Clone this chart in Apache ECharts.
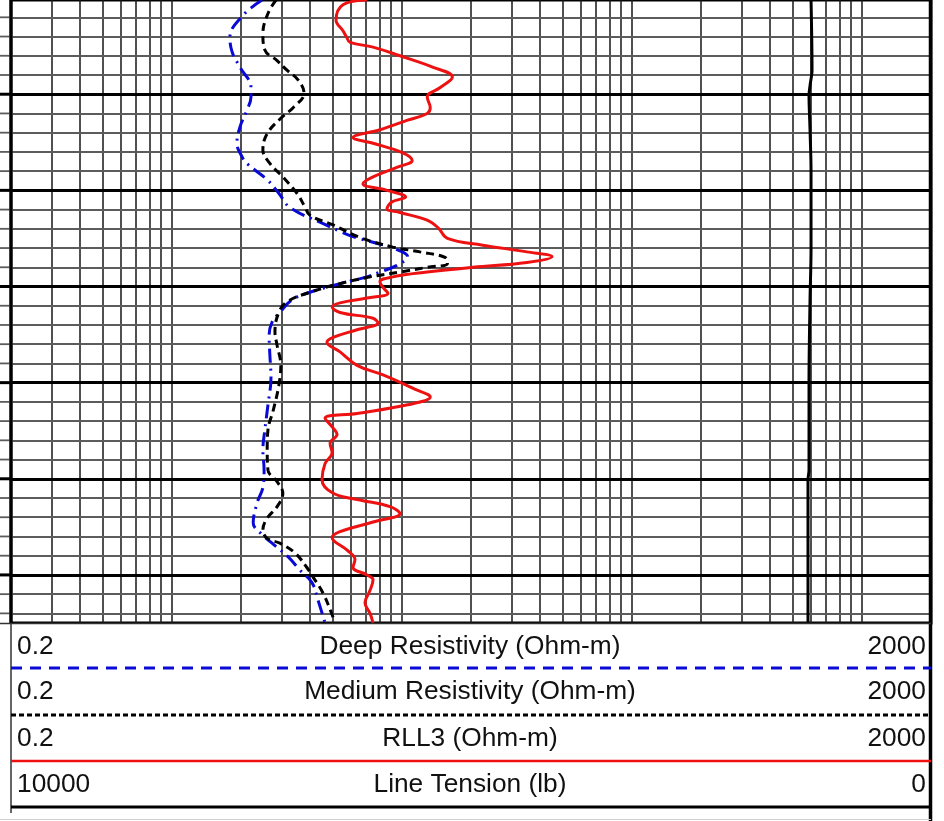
<!DOCTYPE html>
<html>
<head>
<meta charset="utf-8">
<script src="https://cdn.jsdelivr.net/npm/echarts@6/dist/echarts.min.js"></script>
<style>
html,body{margin:0;padding:0;background:#fff;}
#chart{width:944px;height:821px;}
</style>
</head>
<body>
<div id="chart"></div>
<script>
// ---- Data (depth units, values in track units) ----
const deepDepth = [1000.2,1001.8,1004.1,1005.6,1007.2,1009.3,1010.3,1011.7,1013.4,1015.1,1016.5,1017.2,1018.9,1020.3,1021.8,1023.3,1024.7,1025.4,1026.0,1026.9,1027.8,1028.5,1029.0,1029.7,1030.6,1031.4,1032.7,1033.7,1035.1,1037.1,1039.5,1042.3,1044.9,1047.0,1049.1,1050.9,1052.5,1054.6,1055.8,1056.7,1058.1,1059.5,1060.8,1062.6,1065.0];
const deepValue = [2.47,2.04,1.79,1.83,1.98,2.21,2.21,2.12,1.98,1.92,2.02,2.12,2.60,2.92,3.27,4.41,5.96,7.50,9.15,10.6,9.52,8.04,7.06,5.39,3.99,3.33,2.95,2.73,2.65,2.67,2.70,2.62,2.54,2.49,2.52,2.49,2.35,2.26,2.47,2.73,3.20,3.61,4.07,4.32,4.64];

const medDepth = [1000.2,1001.6,1003.7,1005.4,1006.5,1007.5,1008.5,1009.9,1011.4,1012.4,1014.1,1015.8,1017.2,1018.6,1020.3,1021.7,1022.6,1023.6,1024.9,1025.9,1026.4,1027.0,1027.6,1028.0,1028.5,1029.0,1029.7,1030.6,1031.6,1032.7,1034.7,1036.1,1038.2,1040.3,1042.9,1044.9,1047.0,1049.1,1050.3,1051.5,1052.9,1054.1,1055.3,1056.2,1056.7,1057.7,1059.2,1060.2,1061.9,1063.6,1065.0];
const medValue = [2.84,2.62,2.49,2.54,2.87,3.17,3.54,3.76,3.37,3.01,2.60,2.49,2.67,3.04,3.50,3.79,3.99,5.03,6.58,9.15,12.0,15.5,15.8,12.9,9.82,7.28,5.39,3.99,3.17,2.92,2.81,2.87,2.98,2.92,2.76,2.62,2.60,2.62,2.87,3.04,2.87,2.60,2.49,2.60,2.95,3.43,3.86,4.11,4.55,4.88,5.13];

const rllDepth = [1000.2,1000.7,1002.3,1003.4,1004.1,1004.6,1005.1,1006.0,1007.2,1008.2,1009.3,1010.3,1011.4,1012.0,1012.7,1013.7,1014.5,1015.1,1016.1,1016.9,1017.6,1018.6,1019.3,1020.0,1020.7,1021.2,1021.9,1022.3,1023.1,1023.9,1025.0,1025.7,1026.4,1026.9,1027.5,1028.0,1028.5,1029.0,1029.5,1030.1,1030.7,1031.2,1031.7,1032.1,1032.7,1033.3,1033.8,1034.5,1035.3,1035.8,1036.8,1038.2,1039.2,1040.6,1041.5,1042.3,1043.2,1043.7,1044.6,1045.4,1046.3,1047.3,1048.4,1050.1,1051.5,1052.2,1052.9,1053.6,1054.5,1055.5,1056.1,1057.4,1058.4,1059.2,1060.0,1060.5,1061.6,1062.9,1064.0,1065.0];
const rllValue = [7.06,5.55,5.18,5.55,5.77,5.96,7.50,9.82,13.7,16.6,14.7,12.9,13.3,12.9,10.6,8.04,6.14,7.50,10.1,11.1,9.52,7.50,6.78,8.63,10.4,9.06,8.63,9.82,12.9,14.4,15.8,22.5,35.0,45.0,35.0,20.4,12.9,9.15,8.04,8.29,8.71,7.06,5.39,4.98,5.39,7.50,7.88,6.39,5.03,4.73,5.39,6.39,8.29,11.2,13.3,10.6,6.39,4.64,4.98,5.23,4.88,4.98,4.64,4.50,5.03,6.58,8.88,9.82,7.50,5.39,4.98,5.77,6.26,6.14,7.06,7.50,7.28,6.92,7.28,7.50];

const tenDepth = [1000.2,1007.5,1009.1,1010.1,1013.7,1017.9,1026.2,1031.4,1039.7,1049.1,1050.1,1065.0];
const tenValue = [1304,1293,1315,1326,1315,1304,1304,1315,1326,1326,1337,1337];

// Scale definitions
const resMin = 0.2, resMax = 2000;
const tenMin = 0, tenMax = 10000;
const depthMin = 1000.2, depthMax = 1065;
const logGridValues = [0.3,0.4,0.5,0.6,0.7,0.8,0.9,1,2,3,4,5,6,7,8,9,10,20,30,40,50,60,70,80,90,100,200,300,400,500,600,700,800,900,1000];
const depthThin = [1002,1004,1006,1008,1012,1014,1016,1018,1022,1024,1026,1028,1032,1034,1036,1038,1042,1044,1046,1048,1052,1054,1056,1058,1062,1064];
const depthThick = [1010,1020,1030,1040,1050,1060];

// Header rows
const headerRows = [
  {left:'0.2', name:'Deep Resistivity (Ohm-m)', right:'2000'},
  {left:'0.2', name:'Medium Resistivity (Ohm-m)', right:'2000'},
  {left:'0.2', name:'RLL3 (Ohm-m)', right:'2000'},
  {left:'10000', name:'Line Tension (lb)', right:'0'}
];

const zip = (d, v) => d.map((dd, i) => [v[i], dd]);

const chart = echarts.init(document.getElementById('chart'), null, {renderer:'canvas'});

const GL = 11, GR = 931, GT = 0, GB = 623;
const FONT = '"Liberation Sans", Arial, sans-serif';

const option = {
  animation: false,
  backgroundColor: '#fff',
  grid: {left: GL, top: GT, width: GR - GL, height: GB - GT, containLabel: false,
         show: true, borderColor: '#000', borderWidth: 3, backgroundColor: 'transparent', z: 3},
  xAxis: [
    {type:'log', logBase:10, min:resMin, max:resMax, show:false},
    {type:'value', min:tenMin, max:tenMax, inverse:true, show:false}
  ],
  yAxis: [{type:'value', min:depthMin, max:depthMax, inverse:true, show:false}],
  series: [
    {
      type:'line', xAxisIndex:0, yAxisIndex:0, data:[], z:1, silent:true,
      markLine: {
        silent:true, symbol:['none','none'], label:{show:false}, animation:false,
        lineStyle:{color:'#161616', width:1.5, type:'solid'},
        data: logGridValues.map(v => ({xAxis:v}))
      }
    },
    {
      type:'line', xAxisIndex:0, yAxisIndex:0, data:[], z:1, silent:true,
      markLine: {
        silent:true, symbol:['none','none'], label:{show:false}, animation:false,
        lineStyle:{color:'#5c5c5c', width:1.8, type:'solid'},
        data: depthThin.map(v => ({yAxis:v}))
      }
    },
    {
      type:'line', xAxisIndex:0, yAxisIndex:0, data:[], z:1, silent:true,
      markLine: {
        silent:true, symbol:['none','none'], label:{show:false}, animation:false,
        lineStyle:{color:'#000', width:3, type:'solid'},
        data: depthThick.map(v => ({yAxis:v}))
      }
    },
    {
      name:'Line Tension', type:'line', xAxisIndex:1, yAxisIndex:0, z:5,
      data: zip(tenDepth, tenValue), showSymbol:false, smooth:0.3,
      lineStyle:{color:'#000', width:3}
    },
    {
      name:'Deep Resistivity', type:'line', xAxisIndex:0, yAxisIndex:0, z:6,
      data: zip(deepDepth, deepValue), showSymbol:false, smooth:0.4,
      lineStyle:{color:'#0a0ad6', width:3, type:[14,6,2,6]}
    },
    {
      name:'Medium Resistivity', type:'line', xAxisIndex:0, yAxisIndex:0, z:7,
      data: zip(medDepth, medValue), showSymbol:false, smooth:0.4,
      lineStyle:{color:'#000', width:3, type:[8,5]}
    },
    {
      name:'RLL3', type:'line', xAxisIndex:0, yAxisIndex:0, z:8,
      data: zip(rllDepth, rllValue), showSymbol:false, smooth:0.4,
      lineStyle:{color:'#ee1111', width:3}
    }
  ]
};
chart.setOption(option);

// Header and frame graphics
const rowCenters = [647, 692, 739, 785];
const sepY = [668, 715, 761, 807];
const graphics = [];
// left grid-line stubs (grid lines run to the page edge)
depthThin.concat(depthThick).forEach(d => {
  const y = chart.convertToPixel({yAxisIndex:0}, d);
  const thick = depthThick.indexOf(d) >= 0;
  graphics.push({type:'line', shape:{x1:0, y1:y, x2:GL, y2:y}, style:{stroke: thick ? '#000' : '#5c5c5c', lineWidth: thick ? 3 : 1.8}, z:10});
});
// frame
graphics.push({type:'line', shape:{x1:GL, y1:0, x2:GL, y2:623}, style:{stroke:'#000', lineWidth:3}, z:20});
graphics.push({type:'line', shape:{x1:930.5, y1:0, x2:930.5, y2:821}, style:{stroke:'#000', lineWidth:3.5}, z:20});
graphics.push({type:'rect', shape:{x:0, y:623.5, width:929, height:200}, style:{fill:'#fff'}, z:15});
graphics.push({type:'line', shape:{x1:0, y1:623.5, x2:931, y2:623.5}, style:{stroke:'#333', lineWidth:1.5}, z:20});
graphics.push({type:'line', shape:{x1:GL, y1:623, x2:GL, y2:813}, style:{stroke:'#333', lineWidth:1.5}, z:20});
graphics.push({type:'line', shape:{x1:0, y1:819.5, x2:931, y2:819.5}, style:{stroke:'#cfcfcf', lineWidth:1}, z:20});
// separators (line samples)
graphics.push({type:'line', shape:{x1:GL, y1:sepY[0], x2:931, y2:sepY[0]}, style:{stroke:'#0a0ad6', lineWidth:3, lineDash:[11,8]}, z:20});
graphics.push({type:'line', shape:{x1:GL, y1:sepY[1], x2:931, y2:sepY[1]}, style:{stroke:'#000', lineWidth:3, lineDash:[5,3]}, z:20});
graphics.push({type:'line', shape:{x1:GL, y1:sepY[2], x2:931, y2:sepY[2]}, style:{stroke:'#ee1111', lineWidth:2.5}, z:20});
graphics.push({type:'line', shape:{x1:GL, y1:sepY[3], x2:931, y2:sepY[3]}, style:{stroke:'#000', lineWidth:3}, z:20});
headerRows.forEach((r, i) => {
  const y = rowCenters[i];
  graphics.push({type:'text', x:17, y:y, style:{text:r.left, font:'26.3px ' + FONT, fill:'#111', textAlign:'left', textVerticalAlign:'middle'}, z:21});
  graphics.push({type:'text', x:470, y:y, style:{text:r.name, font:'26.3px ' + FONT, fill:'#111', textAlign:'center', textVerticalAlign:'middle'}, z:21});
  graphics.push({type:'text', x:926, y:y, style:{text:r.right, font:'26.3px ' + FONT, fill:'#111', textAlign:'right', textVerticalAlign:'middle'}, z:21});
});
chart.setOption({graphic: graphics});
</script>
</body>
</html>
